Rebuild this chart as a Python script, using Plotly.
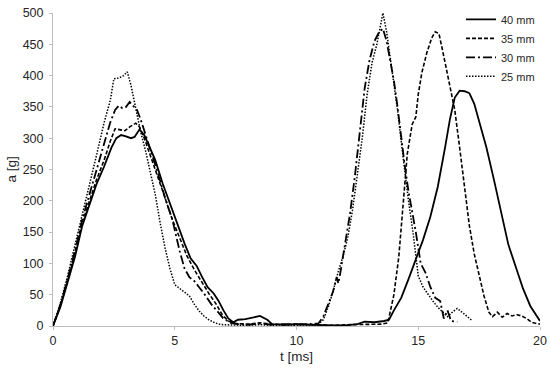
import plotly.graph_objects as go

# 40 mm
t40 = [0, 0.3, 0.6, 0.9, 1.2, 1.5, 1.8, 2.1, 2.4, 2.6, 2.8, 3.0, 3.2, 3.35, 3.55, 3.75, 3.95, 4.2, 4.5, 4.8,
       5.1, 5.4, 5.65, 5.9, 6.1, 6.35, 6.6, 6.8, 7.0, 7.2, 7.4, 7.6, 7.9, 8.2, 8.5, 8.8, 9.0, 9.5, 10, 10.5,
       11, 11.5, 12, 12.5, 12.8, 13.2, 13.6, 13.8, 14.0, 14.3, 14.6, 14.9, 15.2, 15.5, 15.8, 16.1, 16.3, 16.5,
       16.7, 16.9, 17.1, 17.3, 17.5, 17.8, 18.1, 18.4, 18.7, 19.0, 19.3, 19.6, 19.8, 20.0]
a40 = [0, 30, 70, 110, 160, 195, 228, 255, 285, 300, 305, 303, 300, 302, 314, 305, 288, 265, 228, 195,
       162, 132, 108, 96, 80, 62, 52, 40, 25, 12, 6, 10, 11, 14, 16, 10, 3, 2, 3, 2,
       1, 1, 1, 3, 7, 6, 8, 10, 25, 45, 75, 105, 138, 175, 222, 285, 330, 365,
       376, 375, 372, 355, 328, 285, 235, 180, 130, 95, 60, 32, 20, 8]

# 35 mm
t35 = [0, 0.3, 0.6, 0.9, 1.2, 1.5, 1.8, 2.1, 2.35, 2.55, 2.75, 2.95, 3.15, 3.4, 3.55, 3.75, 4.0, 4.3, 4.6, 4.9,
       5.2, 5.5, 5.8, 6.1, 6.4, 6.7, 6.95, 7.2, 7.5, 8, 8.5, 9, 9.5, 10, 10.5, 11, 11.5, 12, 12.5, 13,
       13.5, 13.75, 14.0, 14.2, 14.4, 14.55, 14.75, 14.9, 15.0, 15.15, 15.35, 15.55, 15.7, 15.85, 16.0, 16.15,
       16.3, 16.5, 16.7, 16.9, 17.1, 17.3, 17.5, 17.7, 17.9, 18.05, 18.25, 18.45, 18.65, 18.85, 19.05, 19.25,
       19.45, 19.65, 19.85, 20.0]
a35 = [0, 32, 72, 115, 165, 200, 235, 265, 295, 315, 314, 312, 318, 324, 318, 300, 272, 240, 205, 170,
       140, 112, 90, 70, 52, 35, 18, 8, 4, 3, 5, 3, 2, 3, 2, 2, 1, 2, 2, 3,
       3, 5, 50, 110, 200, 275, 322, 334, 370, 405, 436, 460, 470, 467, 440, 410,
       385, 345, 285, 220, 160, 115, 80, 48, 22, 15, 22, 14, 20, 16, 18, 16,
       12, 6, 4, 3]

# 30 mm
t30 = [0, 0.3, 0.6, 0.9, 1.2, 1.5, 1.8, 2.1, 2.35, 2.55, 2.7, 2.85, 3.0, 3.15, 3.3, 3.45, 3.6, 3.75, 4.0, 4.3,
       4.6, 4.9, 5.2, 5.4, 5.6, 5.8, 6.0, 6.2, 6.5, 6.8, 7.0, 7.3, 7.6, 8, 8.5, 9, 9.5, 10, 10.5, 10.9,
       11.1, 11.3, 11.5, 11.65, 11.72, 11.8, 12.0, 12.2, 12.4, 12.6, 12.8, 13.0, 13.2, 13.4, 13.55, 13.7,
       13.85, 14.0, 14.15, 14.3, 14.45, 14.6, 14.75, 14.9, 15.1, 15.3, 15.5, 15.7, 15.9, 16.05, 16.2, 16.35, 16.6]
a30 = [0, 34, 75, 120, 170, 210, 250, 290, 325, 345, 352, 348, 350, 358, 352, 345, 330, 312, 280, 245,
       205, 170, 120, 92, 78, 72, 62, 52, 35, 22, 12, 5, 3, 2, 4, 2, 3, 2, 3, 4,
       15, 35, 55, 78, 68, 85, 130, 180, 240, 305, 380, 425, 455, 470, 475, 455,
       425, 392, 350, 298, 255, 215, 185, 150, 100, 85, 62, 45, 40, 12, 25, 8, 7]

# 25 mm
t25 = [0, 0.3, 0.6, 0.9, 1.2, 1.5, 1.8, 2.1, 2.35, 2.5, 2.7, 2.9, 3.05, 3.2, 3.4, 3.6, 3.8, 4.0, 4.2, 4.4,
       4.6, 4.8, 5.0, 5.2, 5.4, 5.6, 5.8, 6.0, 6.2, 6.4, 6.6, 6.8, 7.0, 7.5, 8, 8.5, 9, 9.5, 10, 10.5,
       10.9, 11.1, 11.3, 11.5, 11.7, 11.9, 12.1, 12.3, 12.5, 12.7, 12.9, 13.1, 13.3, 13.45, 13.55, 13.7,
       13.85, 14.0, 14.15, 14.3, 14.45, 14.6, 14.8, 15.0, 15.2, 15.4, 15.6, 15.8, 16.0, 16.2, 16.4, 16.6,
       16.8, 17.0, 17.2]
a25 = [0, 36, 80, 128, 178, 225, 275, 325, 360, 395, 396, 400, 406, 385, 345, 310, 280, 245, 210, 165,
       125, 92, 66, 60, 54, 48, 35, 24, 16, 10, 6, 3, 2, 1, 1, 2, 1, 2, 1, 2,
       3, 10, 30, 55, 85, 110, 140, 185, 240, 300, 370, 420, 450, 480, 500, 470,
       430, 390, 345, 295, 245, 200, 145, 80, 62, 50, 40, 30, 22, 15, 22, 28,
       22, 15, 9]

series = [
    ("40 mm", t40, a40, "solid", 1.8),
    ("35 mm", t35, a35, "4px,2px", 1.6),
    ("30 mm", t30, a30, "9px,3px,2px,3px", 1.8),
    ("25 mm", t25, a25, "1.5px,1.5px", 1.5),
]

fig = go.Figure()
for name, t, a, dash, w in series:
    fig.add_trace(go.Scatter(x=t, y=a, mode="lines", name=name,
                             line=dict(color="black", width=w, dash=dash)))

FAM = "Liberation Sans, Arial, sans-serif"
tickfont = dict(family=FAM, size=12.5, color="#262626")
titlefont = dict(family=FAM, size=13.5, color="#262626")
legfont = dict(family=FAM, size=11, color="#262626")

fig.update_layout(
    width=550, height=371,
    margin=dict(l=53, r=10, t=13, b=45, autoexpand=False),
    paper_bgcolor="white", plot_bgcolor="white",
    font=tickfont,
    showlegend=True,
    legend=dict(x=1.0, xanchor="right", y=1.026, yanchor="top", itemwidth=30,
                bgcolor="rgba(0,0,0,0)", font=legfont, tracegroupgap=0),
    xaxis=dict(range=[0, 20], dtick=5, showgrid=False, zeroline=False, automargin=False,
               showline=True, linecolor="#bdbdbd", linewidth=1,
               ticks="outside", ticklen=3, tickcolor="#bdbdbd", tickfont=tickfont,
               ticklabelstandoff=0),
    yaxis=dict(range=[0, 500], dtick=50, showgrid=False, zeroline=False, automargin=False,
               showline=True, linecolor="#bdbdbd", linewidth=1,
               ticks="outside", ticklen=3, tickcolor="#bdbdbd", tickfont=tickfont,
               ticklabelstandoff=3),
    annotations=[
        dict(text="t [ms]", xref="paper", yref="paper", x=0.5, y=-30 / 313,
             xanchor="center", yanchor="middle", showarrow=False, font=titlefont),
        dict(text="a [g]", xref="paper", yref="paper", x=-42 / 487, y=0.5,
             xanchor="center", yanchor="middle", textangle=-90, showarrow=False, font=titlefont),
    ],
)
fig.write_html("out.html", config={"displayModeBar": False},
               post_script="document.body.style.margin='0';document.body.style.overflow='hidden';")
